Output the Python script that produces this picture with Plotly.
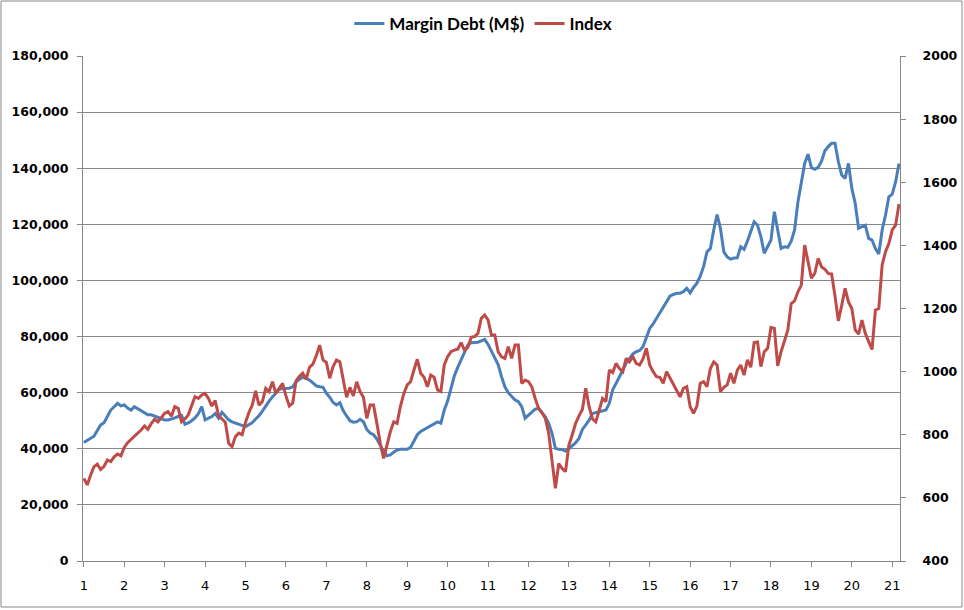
import plotly.graph_objects as go

# Margin debt (M$), monthly, left axis
margin_debt = [
    42200, 43000, 43700, 44500, 46500, 48500, 49300, 51500, 53800, 55000,
    56200, 55300, 55600, 54500, 53800, 55000, 54200, 53600, 52800, 52100,
    52100, 51600, 51200, 50600, 50300, 50300, 50600, 51000, 51500, 51900,
    48700, 49200, 50000, 51000, 52500, 55000, 50300, 50800, 51500, 52600,
    50900, 53000, 51500, 50300, 49600, 49200, 48800, 48300, 47900, 48600,
    49300, 50600, 51800, 53400, 55300, 57000, 58500, 60000, 61200, 61500,
    61500, 61600, 62100, 63900, 64800, 65500, 65100, 64500, 63500, 62400,
    62100, 61900, 59800, 58400, 56500, 55600, 56400, 53600, 51700, 50000,
    49500, 49600, 50500, 49600, 46900, 45600, 45000, 43500, 41200, 39000,
    37500, 37800, 38800, 39600, 39800, 39800, 39800, 40500, 42800, 45000,
    46200, 46900, 47500, 48300, 49100, 49600, 49100, 53800, 57000, 61500,
    66000, 69000, 71500, 74500, 77000, 77800, 77800, 78000, 78500, 79000,
    77200, 74600, 72000, 70000, 65700, 62100, 60000, 58500, 57400, 56800,
    55000, 50900, 52000, 53200, 54100, 54400, 52900, 51400, 49100, 45500,
    40200, 39800, 39700, 39200, 40000, 41000, 42200, 43700, 46900, 48500,
    50200, 52600, 52900, 53400, 53600, 53800, 56200, 61000, 63300, 65500,
    68000, 70500, 72200, 73800, 74600, 75000, 76400, 80000, 82900, 84500,
    86500, 88500, 90000, 92100, 94400, 95000, 95400, 95400, 96000, 97200,
    95600, 97500, 99000, 101500, 105000, 110200, 111400, 118000, 123500, 118500,
    110200, 108400, 107600, 108000, 108100, 112000, 111100, 114000, 117500, 120900,
    119700, 115600, 109700, 112000, 114400, 124500, 118000, 111400, 112000, 111800,
    114000, 118000, 128000, 134600, 141700, 145000, 140200, 139600, 140300, 142500,
    146200, 147700, 148900, 148900, 142300, 137600, 136400, 141700, 132800, 127500,
    118600, 119200, 119700, 115000, 114400, 111400, 109400, 118000, 123300, 129800,
    130800, 135200, 141700,
]

# Index, monthly, right axis
index_values = [
    662, 641, 672, 699, 707, 690, 700, 720, 715, 730,
    739, 733, 760, 775, 785, 794, 805, 815, 828, 817,
    835, 849, 841, 855, 868, 873, 859, 889, 884, 841,
    850, 863, 890, 921, 915, 926, 931, 915, 891, 908,
    860, 850, 840, 773, 762, 794, 805, 800, 840, 870,
    894, 939, 894, 905, 947, 937, 968, 931, 947, 963,
    923, 891, 900, 971, 985, 995, 976, 1014, 1024, 1050,
    1084, 1037, 1029, 979, 1016, 1037, 1031, 973, 919, 950,
    923, 968, 937, 919, 852, 894, 894, 836, 773, 725,
    773, 810, 841, 836, 891, 930, 958, 968, 1005, 1039,
    995, 982, 952, 989, 982, 942, 937, 1021, 1047, 1063,
    1068, 1071, 1092, 1068, 1077, 1109, 1111, 1121, 1169, 1179,
    1164, 1116, 1116, 1063, 1047, 1042, 1079, 1042, 1084, 1084,
    963, 973, 968, 952, 915, 884, 870, 852, 805, 720,
    630, 709, 693, 683, 767, 800, 836, 860, 880, 947,
    889, 850, 841, 878, 915, 905, 1005, 997, 1026, 1010,
    1000, 1042, 1031, 1047, 1026, 1021, 1040, 1074, 1021, 1000,
    984, 982, 963, 1000, 980, 965, 940, 920, 947, 952,
    889, 868, 891, 963, 968, 952, 1010, 1031, 1021, 937,
    950, 958, 995, 963, 1005, 1021, 989, 1037, 1014, 1092,
    1094, 1016, 1063, 1074, 1140, 1137, 1018, 1063, 1100, 1132,
    1216, 1224, 1253, 1274, 1401, 1350, 1296, 1311, 1359, 1332,
    1324, 1311, 1309, 1240, 1161, 1210, 1264, 1221, 1200, 1132,
    1119, 1163, 1121, 1095, 1070, 1195, 1200, 1338, 1380, 1406,
    1449, 1464, 1531,
]

# Category axis: one label every 12 months
tick_labels = ["1", "2", "3", "4", "5", "6", "7", "8", "9", "10", "11",
               "12", "13", "14", "15", "16", "17", "18", "19", "20", "21"]
months_per_label = 12

months = list(range(len(margin_debt)))
tick_positions = [k * months_per_label for k in range(len(tick_labels))]

BLUE = "#4A7EBB"
RED = "#BE4B48"
GRID = "#878787"
FONT = "DejaVu Sans"

fig = go.Figure()
fig.add_trace(go.Scatter(
    x=months, y=margin_debt, name="Margin Debt (M$)", mode="lines",
    line=dict(color=BLUE, width=3), yaxis="y",
))
fig.add_trace(go.Scatter(
    x=months, y=index_values, name="Index", mode="lines",
    line=dict(color=RED, width=3), yaxis="y2",
))

W, H = 964, 610
L, R, T, B = 83, 64, 56, 49
pw, ph = W - L - R, H - T - B

fig.update_layout(
    width=W, height=H,
    margin=dict(l=L, r=R, t=T, b=B, pad=0, autoexpand=False),
    paper_bgcolor="white", plot_bgcolor="white",
    showlegend=True,
    legend=dict(
        orientation="h", x=0.49, xanchor="center",
        y=1 + (T - 24) / ph, yanchor="middle",
        bgcolor="rgba(0,0,0,0)",
        font=dict(family="Lato", size=17, color="black", weight="bold"),
        itemwidth=30, tracegroupgap=0,
    ),
    xaxis=dict(
        range=[-0.25, len(margin_debt) - 0.7],
        tickmode="array", tickvals=tick_positions, ticktext=tick_labels,
        showgrid=False, zeroline=False,
        showline=True, linecolor=GRID, linewidth=1,
        ticks="outside", ticklen=5, tickcolor=GRID,
        ticklabelstandoff=7,
        tickfont=dict(family=FONT, size=13, color="black"),
    ),
    yaxis=dict(
        range=[0, 180000], dtick=20000, tickformat=",",
        showgrid=True, gridcolor=GRID, gridwidth=1, zeroline=False,
        showline=True, linecolor=GRID, linewidth=1,
        ticks="outside", ticklen=5, tickcolor=GRID,
        ticklabelstandoff=6,
        tickfont=dict(family=FONT, size=12.5, color="black", weight="bold"),
    ),
    yaxis2=dict(
        range=[400, 2000], dtick=200, tickformat="d",
        overlaying="y", side="right",
        showgrid=False, zeroline=False,
        showline=True, linecolor=GRID, linewidth=1,
        ticks="outside", ticklen=5, tickcolor=GRID,
        ticklabelstandoff=14,
        tickfont=dict(family=FONT, size=12.5, color="black", weight="bold"),
    ),
    shapes=[dict(
        type="rect", xref="paper", yref="paper",
        x0=(1 - L) / pw, x1=(W - 2 - L) / pw,
        y0=(H - B - (H - 3)) / ph, y1=(H - B - 1) / ph,
        line=dict(color=GRID, width=1), fillcolor="rgba(0,0,0,0)", layer="below",
    )],
)

fig.write_html(
    "out.html",
    config={"displayModeBar": False},
    post_script="document.body.style.margin='0';document.body.style.padding='0';"
                "document.body.style.overflow='hidden';",
)
